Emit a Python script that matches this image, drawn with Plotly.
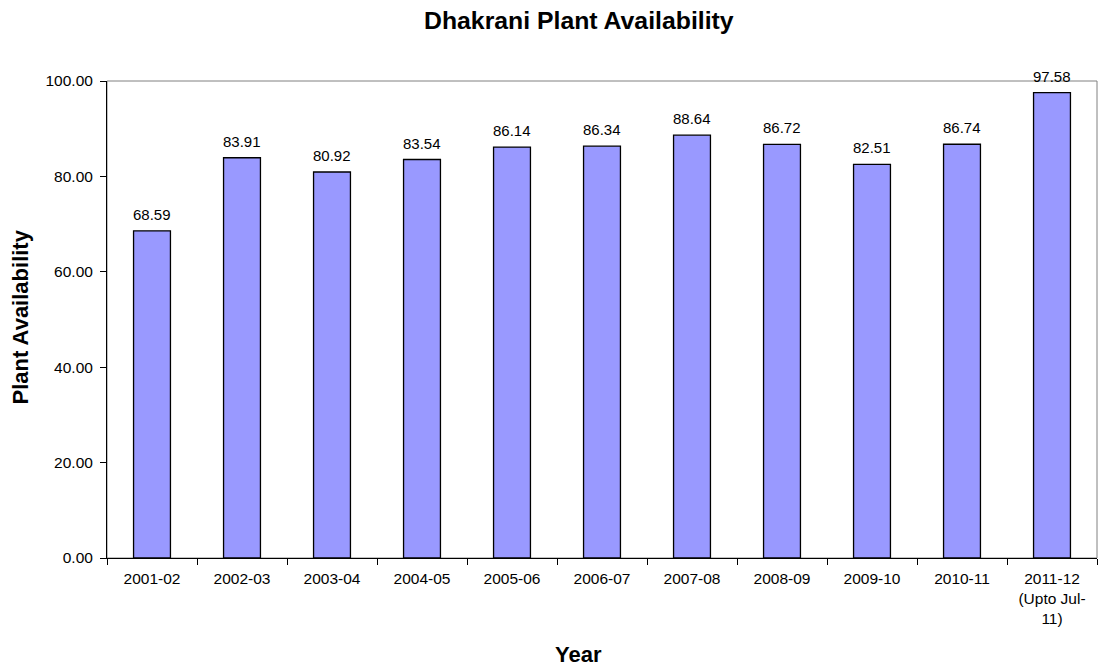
import plotly.graph_objects as go

categories = ["2001-02", "2002-03", "2003-04", "2004-05", "2005-06", "2006-07",
              "2007-08", "2008-09", "2009-10", "2010-11", "2011-12<br>(Upto Jul-<br>11)"]
values = [68.59, 83.91, 80.92, 83.54, 86.14, 86.34, 88.64, 86.72, 82.51, 86.74, 97.58]
value_labels = [f"{v:.2f}" for v in values]

FONT = "Liberation Sans, Arial, sans-serif"

fig = go.Figure()
fig.add_trace(go.Bar(
    x=categories, y=values,
    marker=dict(color="#9999FF", line=dict(color="#000000", width=1.3)),
    width=0.41,
    cliponaxis=False,
))

annotations = [
    dict(text="<b>Dhakrani Plant Availability</b>", xref="paper", yref="paper",
         x=0.4763, y=1, yshift=61, xanchor="center", yanchor="middle",
         showarrow=False, font=dict(size=24.8, family=FONT, color="#000000")),
    dict(text="<b>Year</b>", xref="paper", yref="paper",
         x=0.4763, y=0, yshift=-96, xanchor="center", yanchor="middle",
         showarrow=False, font=dict(size=22, family=FONT, color="#000000")),
    dict(text="<b>Plant Availability</b>", xref="paper", yref="paper",
         x=0, y=0.5, xshift=-87, yshift=2, xanchor="center", yanchor="middle",
         textangle=-90, showarrow=False,
         font=dict(size=22, family=FONT, color="#000000")),
]
for c, v, lab in zip(categories, values, value_labels):
    annotations.append(dict(text=lab, x=c, y=v, xref="x", yref="y",
                            xanchor="center", yanchor="bottom", yshift=6,
                            showarrow=False,
                            font=dict(size=15, family=FONT, color="#000000")))

fig.update_layout(
    width=1104, height=658,
    paper_bgcolor="white", plot_bgcolor="white",
    margin=dict(l=99, r=15, t=73, b=108),
    font=dict(family=FONT, size=15.5, color="#000000"),
    showlegend=False,
    shapes=[dict(type="rect", xref="paper", yref="paper", x0=0, x1=1, y0=0, y1=1,
                 line=dict(color="#808080", width=1), layer="below")],
    annotations=annotations,
)
fig.update_xaxes(
    type="category", tickson="boundaries", ticks="outside", ticklen=6,
    tickcolor="#000000", showline=True, linecolor="#000000", linewidth=1,
    showgrid=False, tickfont=dict(size=15.5), ticklabelstandoff=6,
)
fig.update_yaxes(
    range=[0, 100], dtick=20, tickformat=".2f", ticks="outside", ticklen=6,
    tickcolor="#000000", showline=True, linecolor="#000000", linewidth=1,
    showgrid=False, zeroline=False, tickfont=dict(size=15.5), ticklabelstandoff=4,
)

fig.write_html("out.html")
